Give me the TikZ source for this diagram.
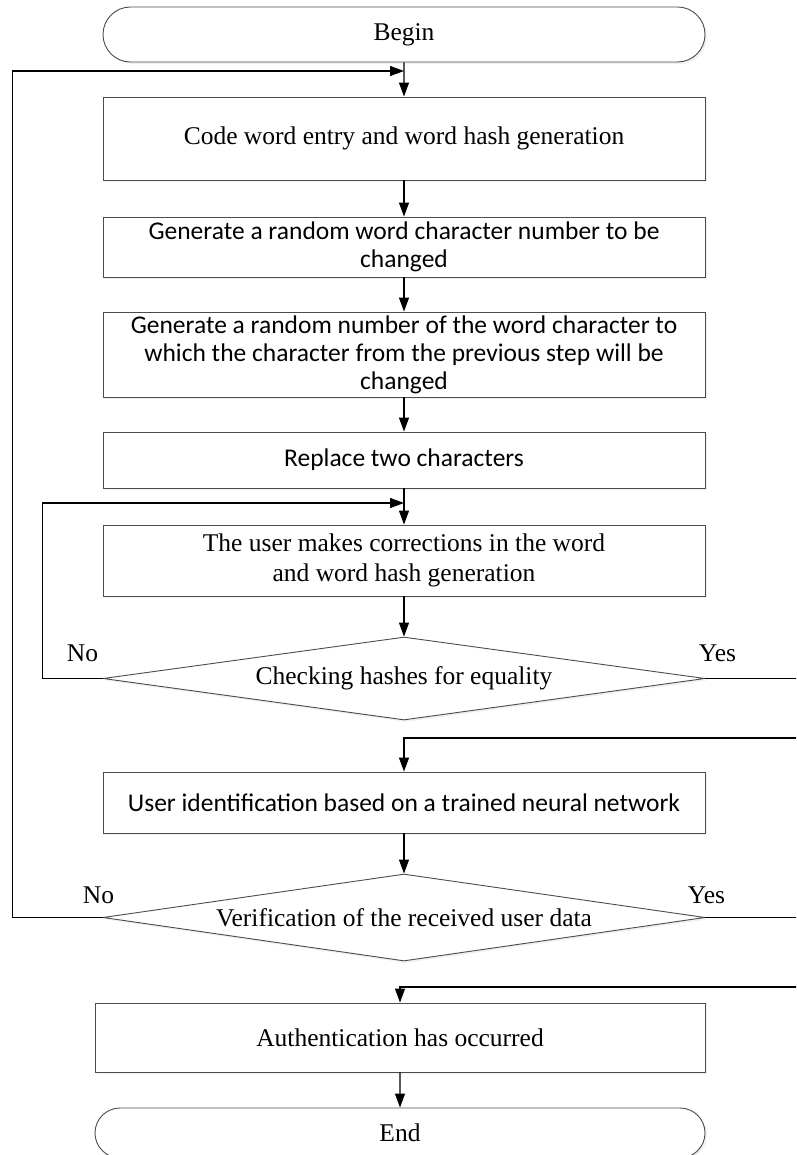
\documentclass[tikz,border=0pt]{standalone}
\usepackage{fontspec}
\setmainfont{Liberation Serif}
\newfontfamily\calfont{Carlito}
\usetikzlibrary{shapes.geometric,shapes.misc,arrows.meta,shadows}

\begin{document}
\begin{tikzpicture}[x=1pt,y=1pt,node distance=104pt,
    font=\fontsize{25.5}{30}\selectfont,
    >={Triangle[length=14pt,width=10pt]},
    box/.style={draw=black!70,line width=0.9pt,rectangle,minimum width=602pt,
      inner sep=0pt,align=center,fill=white,
      drop shadow={opacity=0.12,shadow xshift=2pt,shadow yshift=-2pt}},
    term/.style={box,rounded rectangle},
    cond/.style={box,diamond,aspect=7.25},
    cal/.style={font=\calfont\fontsize{25.5}{28}\selectfont},
    line/.style={line width=1.1pt}]
    \useasboundingbox (0,0) rectangle (796,-1155);
    \clip (0,0) rectangle (796,-1155);

    \node[term,minimum height=55pt] (begin) at (404,-34.5) {Begin};
    \node[box,minimum height=83pt] (entry) [below of=begin] {Code word entry and word hash generation};
    \node[box,cal,minimum height=60pt,node distance=108.5pt] (pick) [below of=entry]
      {Generate a random word character number to be\\ changed};
    \node[box,cal,minimum height=85pt,node distance=107.5pt] (target) [below of=pick]
      {Generate a random number of the word character to\\ which the character from the previous step will be\\ changed};
    \node[box,cal,minimum height=56pt,node distance=105.5pt] (swap) [below of=target] {Replace two characters};
    \node[box,minimum height=71pt,node distance=100.5pt] (fix) [below of=swap]
      {The user makes corrections in the word\\ and word hash generation};
    \node[cond,minimum width=602pt,minimum height=83pt,node distance=118pt] (hash) [below of=fix]
      {Checking hashes for equality};
    \node[box,cal,minimum height=61pt,node distance=124pt] (ident) [below of=hash]
      {User identification based on a trained neural network};
    \node[cond,minimum width=602pt,minimum height=87pt,node distance=115pt] (verify) [below of=ident]
      {Verification of the received user data};
    \node[box,minimum width=610pt,minimum height=69pt,node distance=120pt,xshift=-4pt] (auth) [below of=verify]
      {Authentication has occurred};
    \node[term,minimum width=610pt,minimum height=50pt,node distance=95.5pt] (end) [below of=auth] {End};

    \node (no1) at ([shift={(-20,25.5)}]hash.west) {No};
    \node (yes1) at ([shift={(12,25.5)}]hash.east) {Yes};
    \node (no2) at ([shift={(-4,22.5)}]verify.west) {No};
    \node (yes2) at ([shift={(1,22.5)}]verify.east) {Yes};

    \coordinate (loopA) at (404,-71);
    \coordinate (loopB) at (404,-503);
    \coordinate (joinA) at (404,-738);
    \coordinate (joinB) at (400,-987);

    \draw[line,->] (begin) -- (entry);
    \draw[line,->] (entry) -- (pick);
    \draw[line,->] (pick) -- (target);
    \draw[line,->] (target) -- (swap);
    \draw[line,->] (swap) -- (fix);
    \draw[line,->] (fix) -- (hash);
    \draw[line,->] (ident) -- (verify);
    \draw[line,->] (auth) -- (end);

    \draw[line,->] (hash.west) -- ++(-60,0) |- (loopB);
    \draw[line,->] (verify.west) -- ++(-90,0) |- (loopA);
    \draw[line,->] (hash.east) -- ++(110,0) |- (joinA) -- (ident);
    \draw[line,->] (verify.east) -- ++(110,0) |- (joinB) -- (auth);
  \end{tikzpicture}
\end{document}
